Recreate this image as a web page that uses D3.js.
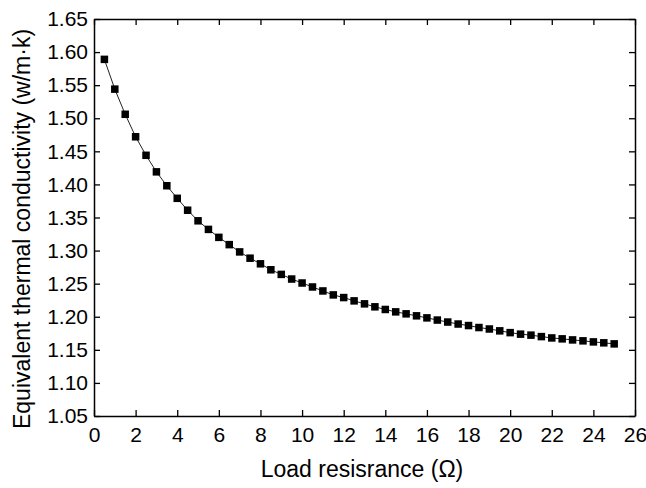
<!DOCTYPE html>
<html>
<head>
<meta charset="utf-8">
<script src="https://cdn.jsdelivr.net/npm/d3@7"></script>
<style>
body { margin: 0; background: #fff; }
svg text { font-family: "Liberation Sans", Arial, sans-serif; fill: #000; }
</style>
</head>
<body>
<svg id="chart" width="646" height="488"></svg>
<script>
const loadResistance = [0.5,1,1.5,2,2.5,3,3.5,4,4.5,5,5.5,6,6.5,7,7.5,8,8.5,9,9.5,10,10.5,11,11.5,12,12.5,13,13.5,14,14.5,15,15.5,16,16.5,17,17.5,18,18.5,19,19.5,20,20.5,21,21.5,22,22.5,23,23.5,24,24.5,25];
const conductivity = [1.589,1.544,1.506,1.472,1.444,1.419,1.398,1.379,1.361,1.345,1.332,1.320,1.309,1.298,1.2885,1.280,1.271,1.264,1.257,1.251,1.245,1.239,1.233,1.229,1.224,1.2195,1.215,1.211,1.2074,1.2044,1.2014,1.1983,1.195,1.192,1.189,1.1867,1.1837,1.1815,1.1787,1.176,1.1737,1.1722,1.170,1.168,1.1666,1.165,1.1636,1.162,1.1606,1.159];
const xTicks = [0,2,4,6,8,10,12,14,16,18,20,22,24,26];
const yTicks = [1.05,1.10,1.15,1.20,1.25,1.30,1.35,1.40,1.45,1.50,1.55,1.60,1.65];
const xLabel = "Load resisrance (Ω)";
const yLabel = "Equivalent thermal conductivity (w/m·k)";

const svg = d3.select("#chart");
const L = 94, R = 635, T = 19, B = 416;
const x = d3.scaleLinear().domain([0, 26]).range([L, R]);
const y = d3.scaleLinear().domain([1.05, 1.65]).range([B, T]);
const fs = 21;

function styleAxis(g) {
  g.selectAll("path").attr("stroke", "#000").attr("stroke-width", 1.5);
  g.selectAll("line").attr("stroke", "#000").attr("stroke-width", 1.3);
  g.selectAll("text").style("font-size", fs + "px").style("font-family", '"Liberation Sans", Arial, sans-serif');
}

// bottom
svg.append("g").attr("transform", `translate(0,${B})`)
  .call(d3.axisBottom(x).tickValues(xTicks).tickFormat(d3.format("d")).tickSizeInner(-6).tickSizeOuter(0).tickPadding(11))
  .call(styleAxis);
// top
svg.append("g").attr("transform", `translate(0,${T})`)
  .call(d3.axisTop(x).tickValues(xTicks).tickFormat("").tickSizeInner(-6).tickSizeOuter(0))
  .call(styleAxis);
// left
svg.append("g").attr("transform", `translate(${L},0)`)
  .call(d3.axisLeft(y).tickValues(yTicks).tickFormat(d3.format(".2f")).tickSizeInner(-6).tickSizeOuter(0).tickPadding(6))
  .call(styleAxis);
// right
svg.append("g").attr("transform", `translate(${R},0)`)
  .call(d3.axisRight(y).tickValues(yTicks).tickFormat("").tickSizeInner(-6).tickSizeOuter(0))
  .call(styleAxis);

const pts = loadResistance.map((d, i) => [d, conductivity[i]]);
svg.append("path").datum(pts)
  .attr("fill", "none").attr("stroke", "#222").attr("stroke-width", 1)
  .attr("d", d3.line().x(d => x(d[0])).y(d => y(d[1])));

const ms = 7.5;
svg.append("g").selectAll("rect").data(pts).join("rect")
  .attr("x", d => x(d[0]) - ms / 2).attr("y", d => y(d[1]) - ms / 2)
  .attr("width", ms).attr("height", ms).attr("fill", "#000");

svg.append("text").attr("x", 362).attr("y", 477)
  .attr("text-anchor", "middle").style("font-size", "23px").text(xLabel);
svg.append("text").attr("transform", `translate(30,${229}) rotate(-90)`)
  .attr("text-anchor", "middle").style("font-size", "23px").text(yLabel);
</script>
</body>
</html>
